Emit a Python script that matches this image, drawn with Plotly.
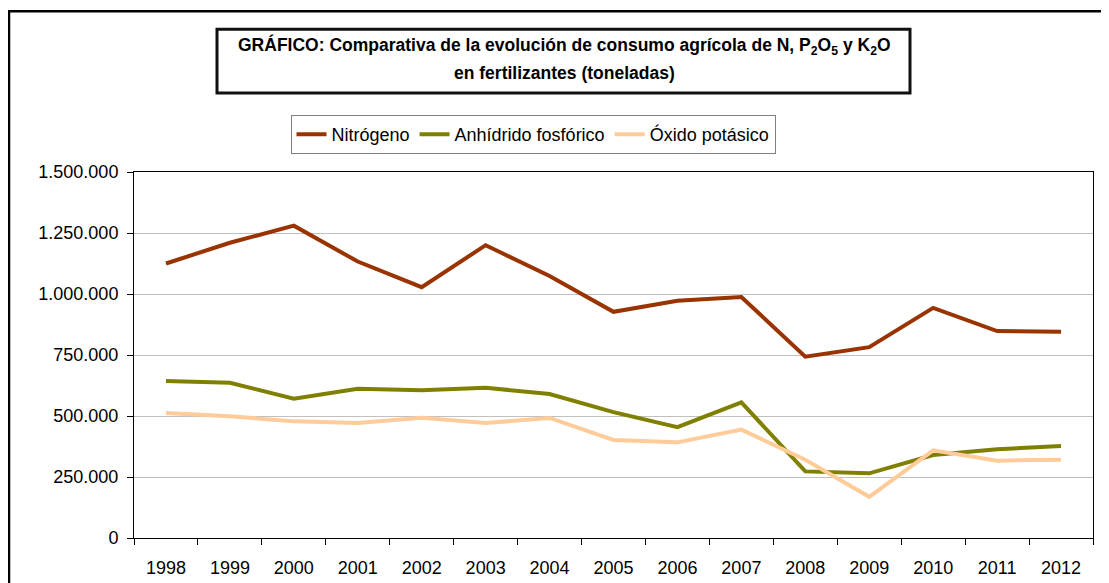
import plotly.graph_objects as go

years = [str(y) for y in range(1998, 2013)]
nitrogeno = [1125000, 1210000, 1280000, 1133000, 1028000, 1200000, 1074000, 927000,
             972000, 988000, 743000, 782000, 943000, 848000, 845000]
anhidrido = [643000, 636000, 571000, 612000, 606000, 616000, 590000, 516000,
             454000, 556000, 273000, 265000, 340000, 364000, 377000]
oxido = [512000, 499000, 478000, 471000, 493000, 471000, 492000, 402000,
         392000, 444000, 321000, 169000, 359000, 317000, 321000]

FONT = "Liberation Sans, Arial, sans-serif"

fig = go.Figure()
fig.add_trace(go.Scatter(x=years, y=nitrogeno, name="Nitrógeno", mode="lines",
                         line=dict(color="#993300", width=4)))
fig.add_trace(go.Scatter(x=years, y=anhidrido, name="Anhídrido fosfórico", mode="lines",
                         line=dict(color="#808000", width=4)))
fig.add_trace(go.Scatter(x=years, y=oxido, name="Óxido potásico", mode="lines",
                         line=dict(color="#FFCC99", width=4)))

# page pixel -> paper helpers (plot area 134..1093 x, 172..538.5 y on the page)
def px(x):
    return (x - 134) / 959.0


def py(y):
    return (538.5 - y) / 366.5


# the page body adds an 8px offset, so margins are taken 8px smaller
fig.update_layout(
    width=1109, height=583,
    margin=dict(l=126, r=24, t=164, b=52.5),
    paper_bgcolor="white", plot_bgcolor="white",
    font=dict(family=FONT, size=18, color="black"),
    separators=",.",
    showlegend=True,
    legend=dict(orientation="h", x=px(533), y=py(115), xanchor="center", yanchor="top",
                bordercolor="#808080", borderwidth=1, bgcolor="white",
                font=dict(family=FONT, size=18, color="black"),
                itemwidth=30, tracegroupgap=0),
    xaxis=dict(type="category", range=[-0.5, 14.5], tickson="boundaries",
               ticks="outside", ticklen=6, tickcolor="black", showgrid=False,
               showline=True, linecolor="black", linewidth=1, mirror=True,
               ticklabelstandoff=13),
    yaxis=dict(range=[0, 1500000], dtick=250000, tickformat=",.0f",
               ticks="outside", ticklen=6, tickcolor="black",
               showgrid=True, gridcolor="#C0C0C0", gridwidth=1,
               showline=True, linecolor="black", linewidth=1, mirror=True,
               zeroline=False, ticklabelstandoff=5),
)

# outer frame
fig.add_shape(type="rect", xref="paper", yref="paper",
              x0=px(9), x1=px(1130), y0=py(600), y1=py(11),
              line=dict(color="black", width=2.5), layer="above")
# title box
fig.add_shape(type="rect", xref="paper", yref="paper",
              x0=px(217), x1=px(910), y0=py(93), y1=py(29),
              line=dict(color="#111111", width=3), fillcolor="white")
fig.add_annotation(xref="paper", yref="paper", x=px(564), y=py(46), showarrow=False,
                   xanchor="center", yanchor="middle",
                   text="<b>GRÁFICO: Comparativa de la evolución de consumo agrícola de N, "
                        "P<sub>2</sub>O<sub>5</sub> y K<sub>2</sub>O</b>",
                   font=dict(family=FONT, size=17.5, color="black"))
fig.add_annotation(xref="paper", yref="paper", x=px(564), y=py(73), showarrow=False,
                   xanchor="center", yanchor="middle",
                   text="<b>en fertilizantes (toneladas)</b>",
                   font=dict(family=FONT, size=17.5, color="black"))

fig.write_html("out.html")
